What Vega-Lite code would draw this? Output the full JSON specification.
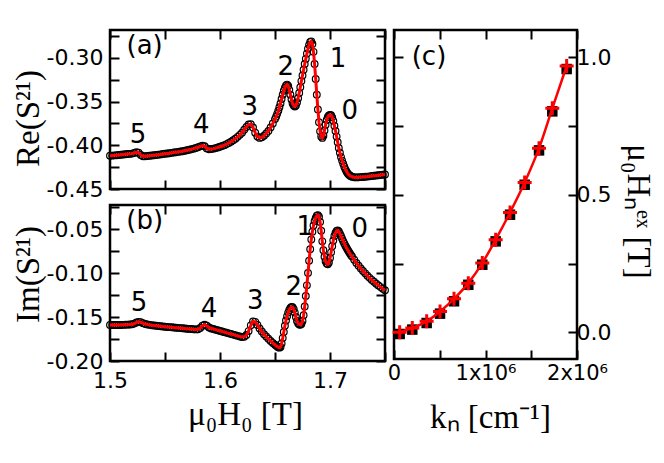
{
  "$schema": "https://vega.github.io/schema/vega-lite/v6.json",
  "padding": {"left": 10, "top": 23, "right": 0, "bottom": 0},
  "background": "white",
  "config": {
    "view": {"stroke": "black", "strokeWidth": 2.5},
    "axis": {"domain": false, "grid": false, "tickColor": "black", "tickWidth": 2, "tickSize": -9,
      "labelFont": "DejaVu Sans", "labelFontSize": 22, "labelColor": "black", "labelOverlap": false, "labelFlush": false,
      "titleFont": "Liberation Serif", "titleFontSize": 33, "titleFontWeight": "normal", "titleColor": "black"}
  },
  "datasets": {
    "s21": [
      {"h":1.500,"re":-0.4120,"im":-0.1590},{"h":1.502,"re":-0.4118,"im":-0.1590},{"h":1.504,"re":-0.4115,"im":-0.1590},
      {"h":1.506,"re":-0.4113,"im":-0.1590},{"h":1.508,"re":-0.4110,"im":-0.1590},{"h":1.510,"re":-0.4108,"im":-0.1590},
      {"h":1.512,"re":-0.4105,"im":-0.1589},{"h":1.514,"re":-0.4103,"im":-0.1588},{"h":1.516,"re":-0.4100,"im":-0.1587},
      {"h":1.518,"re":-0.4098,"im":-0.1585},{"h":1.520,"re":-0.4095,"im":-0.1582},{"h":1.522,"re":-0.4088,"im":-0.1575},
      {"h":1.524,"re":-0.4080,"im":-0.1563},{"h":1.526,"re":-0.4085,"im":-0.1555},{"h":1.528,"re":-0.4110,"im":-0.1558},
      {"h":1.530,"re":-0.4125,"im":-0.1570},{"h":1.532,"re":-0.4125,"im":-0.1580},{"h":1.534,"re":-0.4122,"im":-0.1585},
      {"h":1.536,"re":-0.4120,"im":-0.1589},{"h":1.538,"re":-0.4117,"im":-0.1593},{"h":1.540,"re":-0.4113,"im":-0.1596},
      {"h":1.542,"re":-0.4110,"im":-0.1599},{"h":1.544,"re":-0.4107,"im":-0.1602},{"h":1.546,"re":-0.4104,"im":-0.1605},
      {"h":1.548,"re":-0.4100,"im":-0.1608},{"h":1.550,"re":-0.4096,"im":-0.1611},{"h":1.552,"re":-0.4093,"im":-0.1613},
      {"h":1.554,"re":-0.4090,"im":-0.1615},{"h":1.556,"re":-0.4086,"im":-0.1617},{"h":1.558,"re":-0.4083,"im":-0.1620},
      {"h":1.560,"re":-0.4079,"im":-0.1622},{"h":1.562,"re":-0.4075,"im":-0.1624},{"h":1.564,"re":-0.4071,"im":-0.1626},
      {"h":1.566,"re":-0.4067,"im":-0.1628},{"h":1.568,"re":-0.4062,"im":-0.1631},{"h":1.570,"re":-0.4057,"im":-0.1633},
      {"h":1.572,"re":-0.4051,"im":-0.1635},{"h":1.574,"re":-0.4045,"im":-0.1637},{"h":1.576,"re":-0.4038,"im":-0.1639},
      {"h":1.578,"re":-0.4030,"im":-0.1641},{"h":1.580,"re":-0.4022,"im":-0.1640},{"h":1.582,"re":-0.4012,"im":-0.1625},
      {"h":1.584,"re":-0.4004,"im":-0.1600},{"h":1.586,"re":-0.4010,"im":-0.1588},{"h":1.588,"re":-0.4035,"im":-0.1600},
      {"h":1.590,"re":-0.4045,"im":-0.1620},{"h":1.592,"re":-0.4043,"im":-0.1630},{"h":1.594,"re":-0.4038,"im":-0.1637},
      {"h":1.596,"re":-0.4032,"im":-0.1644},{"h":1.598,"re":-0.4025,"im":-0.1651},{"h":1.600,"re":-0.4017,"im":-0.1658},
      {"h":1.602,"re":-0.4008,"im":-0.1665},{"h":1.604,"re":-0.3998,"im":-0.1672},{"h":1.606,"re":-0.3986,"im":-0.1679},
      {"h":1.608,"re":-0.3973,"im":-0.1686},{"h":1.610,"re":-0.3958,"im":-0.1693},{"h":1.612,"re":-0.3942,"im":-0.1700},
      {"h":1.614,"re":-0.3924,"im":-0.1707},{"h":1.616,"re":-0.3903,"im":-0.1714},{"h":1.618,"re":-0.3880,"im":-0.1721},
      {"h":1.620,"re":-0.3855,"im":-0.1727},{"h":1.622,"re":-0.3822,"im":-0.1725},{"h":1.624,"re":-0.3790,"im":-0.1705},
      {"h":1.626,"re":-0.3762,"im":-0.1660},{"h":1.628,"re":-0.3758,"im":-0.1595},{"h":1.630,"re":-0.3795,"im":-0.1550},
      {"h":1.632,"re":-0.3855,"im":-0.1555},{"h":1.634,"re":-0.3900,"im":-0.1590},{"h":1.636,"re":-0.3915,"im":-0.1630},
      {"h":1.638,"re":-0.3908,"im":-0.1665},{"h":1.640,"re":-0.3890,"im":-0.1695},{"h":1.642,"re":-0.3865,"im":-0.1722},
      {"h":1.644,"re":-0.3835,"im":-0.1748},{"h":1.646,"re":-0.3795,"im":-0.1772},{"h":1.648,"re":-0.3750,"im":-0.1795},
      {"h":1.650,"re":-0.3700,"im":-0.1815},{"h":1.651,"re":-0.3672,"im":-0.1825},{"h":1.652,"re":-0.3640,"im":-0.1835},
      {"h":1.653,"re":-0.3605,"im":-0.1843},{"h":1.654,"re":-0.3565,"im":-0.1848},{"h":1.655,"re":-0.3520,"im":-0.1840},
      {"h":1.656,"re":-0.3470,"im":-0.1800},{"h":1.657,"re":-0.3420,"im":-0.1740},{"h":1.658,"re":-0.3375,"im":-0.1670},
      {"h":1.659,"re":-0.3340,"im":-0.1600},{"h":1.660,"re":-0.3315,"im":-0.1540},{"h":1.661,"re":-0.3305,"im":-0.1490},
      {"h":1.662,"re":-0.3320,"im":-0.1450},{"h":1.663,"re":-0.3365,"im":-0.1420},{"h":1.664,"re":-0.3420,"im":-0.1398},
      {"h":1.665,"re":-0.3475,"im":-0.1387},{"h":1.666,"re":-0.3520,"im":-0.1388},{"h":1.667,"re":-0.3545,"im":-0.1410},
      {"h":1.668,"re":-0.3555,"im":-0.1450},{"h":1.669,"re":-0.3545,"im":-0.1500},{"h":1.670,"re":-0.3510,"im":-0.1545},
      {"h":1.671,"re":-0.3460,"im":-0.1572},{"h":1.672,"re":-0.3400,"im":-0.1585},{"h":1.673,"re":-0.3335,"im":-0.1588},
      {"h":1.674,"re":-0.3265,"im":-0.1580},{"h":1.675,"re":-0.3200,"im":-0.1545},{"h":1.676,"re":-0.3135,"im":-0.1480},
      {"h":1.677,"re":-0.3070,"im":-0.1380},{"h":1.678,"re":-0.3010,"im":-0.1260},{"h":1.679,"re":-0.2950,"im":-0.1140},
      {"h":1.680,"re":-0.2895,"im":-0.1000},{"h":1.681,"re":-0.2850,"im":-0.0860},{"h":1.682,"re":-0.2818,"im":-0.0730},
      {"h":1.683,"re":-0.2810,"im":-0.0620},{"h":1.684,"re":-0.2840,"im":-0.0530},{"h":1.685,"re":-0.2930,"im":-0.0460},
      {"h":1.686,"re":-0.3070,"im":-0.0410},{"h":1.687,"re":-0.3240,"im":-0.0375},{"h":1.688,"re":-0.3420,"im":-0.0350},
      {"h":1.689,"re":-0.3590,"im":-0.0342},{"h":1.690,"re":-0.3735,"im":-0.0360},{"h":1.691,"re":-0.3840,"im":-0.0420},
      {"h":1.692,"re":-0.3900,"im":-0.0520},{"h":1.693,"re":-0.3915,"im":-0.0640},{"h":1.694,"re":-0.3890,"im":-0.0740},
      {"h":1.695,"re":-0.3830,"im":-0.0815},{"h":1.696,"re":-0.3765,"im":-0.0865},{"h":1.697,"re":-0.3710,"im":-0.0893},
      {"h":1.698,"re":-0.3675,"im":-0.0900},{"h":1.699,"re":-0.3658,"im":-0.0880},{"h":1.700,"re":-0.3652,"im":-0.0830},
      {"h":1.701,"re":-0.3655,"im":-0.0765},{"h":1.702,"re":-0.3680,"im":-0.0695},{"h":1.703,"re":-0.3720,"im":-0.0630},
      {"h":1.704,"re":-0.3775,"im":-0.0580},{"h":1.705,"re":-0.3835,"im":-0.0545},{"h":1.706,"re":-0.3900,"im":-0.0522},
      {"h":1.707,"re":-0.3965,"im":-0.0515},{"h":1.708,"re":-0.4030,"im":-0.0528},{"h":1.709,"re":-0.4085,"im":-0.0552},
      {"h":1.710,"re":-0.4135,"im":-0.0580},{"h":1.711,"re":-0.4175,"im":-0.0610},{"h":1.712,"re":-0.4210,"im":-0.0638},
      {"h":1.713,"re":-0.4245,"im":-0.0664},{"h":1.714,"re":-0.4275,"im":-0.0689},{"h":1.715,"re":-0.4300,"im":-0.0713},
      {"h":1.716,"re":-0.4320,"im":-0.0735},{"h":1.717,"re":-0.4335,"im":-0.0756},{"h":1.718,"re":-0.4346,"im":-0.0776},
      {"h":1.719,"re":-0.4354,"im":-0.0795},{"h":1.720,"re":-0.4360,"im":-0.0813},{"h":1.722,"re":-0.4366,"im":-0.0850},
      {"h":1.724,"re":-0.4367,"im":-0.0885},{"h":1.726,"re":-0.4366,"im":-0.0918},{"h":1.728,"re":-0.4364,"im":-0.0948},
      {"h":1.730,"re":-0.4362,"im":-0.0977},{"h":1.732,"re":-0.4360,"im":-0.1004},{"h":1.734,"re":-0.4358,"im":-0.1030},
      {"h":1.736,"re":-0.4355,"im":-0.1055},{"h":1.738,"re":-0.4352,"im":-0.1078},{"h":1.740,"re":-0.4349,"im":-0.1100},
      {"h":1.742,"re":-0.4346,"im":-0.1121},{"h":1.744,"re":-0.4343,"im":-0.1141},{"h":1.746,"re":-0.4340,"im":-0.1160},
      {"h":1.748,"re":-0.4337,"im":-0.1178},{"h":1.750,"re":-0.4334,"im":-0.1195}
    ],
    "labA": [
      {"h":1.5315,"v":-0.2864,"t":"(a)"},{"h":1.5255,"v":-0.3878,"t":"5"},{"h":1.583,"v":-0.3773,"t":"4"},
      {"h":1.627,"v":-0.3557,"t":"3"},{"h":1.6597,"v":-0.3099,"t":"2"},{"h":1.7073,"v":-0.3015,"t":"1"},
      {"h":1.718,"v":-0.3602,"t":"0"}
    ],
    "labB": [
      {"h":1.5315,"v":-0.0406,"t":"(b)"},{"h":1.5264,"v":-0.1345,"t":"5"},{"h":1.590,"v":-0.1409,"t":"4"},
      {"h":1.6321,"v":-0.1315,"t":"3"},{"h":1.667,"v":-0.1156,"t":"2"},{"h":1.677,"v":-0.0482,"t":"1"},
      {"h":1.727,"v":-0.050,"t":"0"}
    ],
    "kn": [
      {"k":62000,"exp":-0.006,"fit":0.000},{"k":200000,"exp":0.010,"fit":0.016},{"k":357000,"exp":0.034,"fit":0.040},
      {"k":503000,"exp":0.068,"fit":0.076},{"k":656000,"exp":0.113,"fit":0.122},{"k":812000,"exp":0.173,"fit":0.179},
      {"k":965000,"exp":0.246,"fit":0.252},{"k":1111000,"exp":0.331,"fit":0.337},{"k":1268000,"exp":0.428,"fit":0.436},
      {"k":1428000,"exp":0.537,"fit":0.545},{"k":1585000,"exp":0.662,"fit":0.670},{"k":1730000,"exp":0.804,"fit":0.815},
      {"k":1887000,"exp":0.958,"fit":0.969}
    ],
    "labC": [{"k":382500,"v":1.0,"t":"(c)"}]
  },
  "spacing": -8,
  "hconcat": [
    {
      "bounds": "flush",
      "spacing": 16,
      "vconcat": [
        {
          "width": 275, "height": 159,
          "layer": [
            {
              "data": {"name": "s21"},
              "mark": {"type": "point", "shape": "circle", "filled": false, "color": "black", "size": 45, "strokeWidth": 1.2, "opacity": 1},
              "encoding": {
                "x": {"field": "h", "type": "quantitative", "scale": {"domain": [1.5, 1.75], "nice": false, "zero": false},
                  "axis": {"orient": "bottom", "values": [1.5,1.55,1.6,1.65,1.7,1.75], "labels": false, "title": null}},
                "y": {"field": "re", "type": "quantitative", "scale": {"domain": [-0.45, -0.268], "nice": false, "zero": false},
                  "axis": {"orient": "left", "values": [-0.45,-0.425,-0.4,-0.375,-0.35,-0.325,-0.3,-0.275],
                    "labelExpr": "abs(datum.value*20 - round(datum.value*20)) < 0.001 ? '-' + format(abs(datum.value), '.2f') : ''",
                    "labelPadding": 16, "title": "Re(S²¹)", "titleX": -82, "titleY": 88, "titleAngle": 270, "titleAlign": "center", "titleBaseline": "middle"}}
              }
            },
            {
              "data": {"name": "s21"},
              "mark": {"type": "line", "color": "#ff0000", "strokeWidth": 3},
              "encoding": {
                "x": {"field": "h", "type": "quantitative", "scale": {"domain": [1.5, 1.75], "nice": false, "zero": false},
                  "axis": {"orient": "top", "values": [1.5,1.55,1.6,1.65,1.7,1.75], "labels": false, "title": null}},
                "y": {"field": "re", "type": "quantitative", "scale": {"domain": [-0.45, -0.268], "nice": false, "zero": false},
                  "axis": {"orient": "right", "values": [-0.45,-0.425,-0.4,-0.375,-0.35,-0.325,-0.3,-0.275], "labels": false, "title": null}}
              }
            },
            {
              "data": {"name": "labA"},
              "mark": {"type": "text", "font": "DejaVu Sans", "fontSize": 26, "color": "black", "align": "center", "baseline": "middle"},
              "encoding": {
                "x": {"field": "h", "type": "quantitative", "scale": {"domain": [1.5, 1.75], "nice": false, "zero": false}, "axis": null},
                "y": {"field": "v", "type": "quantitative", "scale": {"domain": [-0.45, -0.268], "nice": false, "zero": false}, "axis": null},
                "text": {"field": "t"}
              }
            }
          ],
          "resolve": {"axis": {"x": "independent", "y": "independent"}}
        },
        {
          "width": 275, "height": 156,
          "layer": [
            {
              "data": {"name": "s21"},
              "mark": {"type": "point", "shape": "circle", "filled": false, "color": "black", "size": 45, "strokeWidth": 1.2, "opacity": 1},
              "encoding": {
                "x": {"field": "h", "type": "quantitative", "scale": {"domain": [1.5, 1.75], "nice": false, "zero": false},
                  "axis": {"orient": "bottom", "values": [1.5,1.55,1.6,1.65,1.7,1.75],
                    "labelExpr": "abs(datum.value*10 - round(datum.value*10)) < 0.001 && datum.value < 1.74 ? format(datum.value, '.1f') : ''",
                    "labelPadding": 18, "title": "μ₀H₀ [T]", "titleX": 135, "titleY": 63, "titleAlign": "center", "titleBaseline": "alphabetic"}},
                "y": {"field": "im", "type": "quantitative", "scale": {"domain": [-0.2, -0.0227], "nice": false, "zero": false},
                  "axis": {"orient": "left", "values": [-0.2,-0.175,-0.15,-0.125,-0.1,-0.075,-0.05,-0.025],
                    "labelExpr": "abs(datum.value*20 - round(datum.value*20)) < 0.001 ? '-' + format(abs(datum.value), '.2f') : ''",
                    "labelPadding": 16, "title": "Im(S²¹)", "titleX": -82, "titleY": 69, "titleAngle": 270, "titleAlign": "center", "titleBaseline": "middle"}}
              }
            },
            {
              "data": {"name": "s21"},
              "mark": {"type": "line", "color": "#ff0000", "strokeWidth": 3},
              "encoding": {
                "x": {"field": "h", "type": "quantitative", "scale": {"domain": [1.5, 1.75], "nice": false, "zero": false},
                  "axis": {"orient": "top", "values": [1.5,1.55,1.6,1.65,1.7,1.75], "labels": false, "title": null}},
                "y": {"field": "im", "type": "quantitative", "scale": {"domain": [-0.2, -0.0227], "nice": false, "zero": false},
                  "axis": {"orient": "right", "values": [-0.2,-0.175,-0.15,-0.125,-0.1,-0.075,-0.05,-0.025], "labels": false, "title": null}}
              }
            },
            {
              "data": {"name": "labB"},
              "mark": {"type": "text", "font": "DejaVu Sans", "fontSize": 26, "color": "black", "align": "center", "baseline": "middle"},
              "encoding": {
                "x": {"field": "h", "type": "quantitative", "scale": {"domain": [1.5, 1.75], "nice": false, "zero": false}, "axis": null},
                "y": {"field": "v", "type": "quantitative", "scale": {"domain": [-0.2, -0.0227], "nice": false, "zero": false}, "axis": null},
                "text": {"field": "t"}
              }
            }
          ],
          "resolve": {"axis": {"x": "independent", "y": "independent"}}
        }
      ]
    },
    {
      "width": 183, "height": 329,
      "layer": [
        {
          "data": {"name": "kn"},
          "mark": {"type": "point", "shape": "square", "filled": true, "color": "black", "size": 110, "opacity": 1},
          "encoding": {
            "x": {"field": "k", "type": "quantitative", "scale": {"domain": [0, 2000000], "nice": false, "zero": false},
              "axis": {"orient": "bottom", "values": [0, 500000, 1000000, 1500000, 2000000],
                "labelExpr": "datum.value == 0 ? '0' : datum.value == 1000000 ? '1x10⁶' : datum.value == 2000000 ? '2x10⁶' : ''",
                "labelFontSize": 21,
                "labelPadding": 12, "title": "kₙ [cm⁻¹]", "titleX": 96, "titleY": 68, "titleAlign": "center", "titleBaseline": "alphabetic"}},
            "y": {"field": "exp", "type": "quantitative", "scale": {"domain": [-0.097, 1.1], "nice": false, "zero": false},
              "axis": {"orient": "left", "values": [0, 0.25, 0.5, 0.75, 1.0], "labels": false, "title": null}}
          }
        },
        {
          "data": {"name": "kn"},
          "mark": {"type": "line", "color": "#ff0000", "strokeWidth": 2.5, "interpolate": "monotone"},
          "encoding": {
            "x": {"field": "k", "type": "quantitative", "scale": {"domain": [0, 2000000], "nice": false, "zero": false},
              "axis": {"orient": "top", "values": [0, 500000, 1000000, 1500000, 2000000], "labels": false, "title": null}},
            "y": {"field": "fit", "type": "quantitative", "scale": {"domain": [-0.097, 1.1], "nice": false, "zero": false},
              "axis": {"orient": "right", "values": [0, 0.25, 0.5, 0.75, 1.0],
                "labelExpr": "abs(datum.value*2 - round(datum.value*2)) < 0.001 ? format(datum.value, '.1f') : ''",
                "labelPadding": 8, "title": "μ₀Hₙᵉˣ [T]", "titleX": 60, "titleY": 181, "titleAngle": 90, "titleAlign": "center", "titleBaseline": "middle"}}
          }
        },
        {
          "data": {"name": "kn"},
          "mark": {"type": "point", "shape": "M-1,0L1,0M0,-1L0,1", "filled": false, "color": "#ff0000", "size": 196, "strokeWidth": 3, "opacity": 1},
          "encoding": {
            "x": {"field": "k", "type": "quantitative", "scale": {"domain": [0, 2000000], "nice": false, "zero": false}, "axis": null},
            "y": {"field": "fit", "type": "quantitative", "scale": {"domain": [-0.097, 1.1], "nice": false, "zero": false}, "axis": null}
          }
        },
        {
          "data": {"name": "labC"},
          "mark": {"type": "text", "font": "DejaVu Sans", "fontSize": 26, "color": "black", "align": "center", "baseline": "middle"},
          "encoding": {
            "x": {"field": "k", "type": "quantitative", "scale": {"domain": [0, 2000000], "nice": false, "zero": false}, "axis": null},
            "y": {"field": "v", "type": "quantitative", "scale": {"domain": [-0.097, 1.1], "nice": false, "zero": false}, "axis": null},
            "text": {"field": "t"}
          }
        }
      ],
      "resolve": {"axis": {"x": "independent", "y": "independent"}}
    }
  ]
}
